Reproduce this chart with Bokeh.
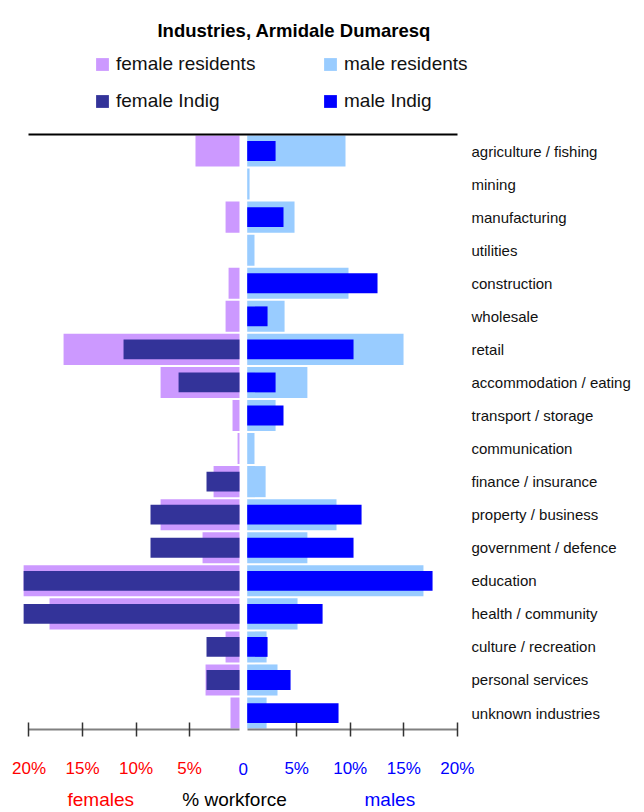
from bokeh.plotting import figure
from bokeh.models import (ColumnDataSource, Range1d, LinearAxis, FixedTicker,
                          Label, Legend, LegendItem)
from bokeh.core.properties import value
from bokeh.embed import file_html
from bokeh.resources import INLINE

# ---------------- data ----------------
categories = ["agriculture / fishing", "mining", "manufacturing", "utilities", "construction",
              "wholesale", "retail", "accommodation / eating", "transport / storage",
              "communication", "finance / insurance", "property / business",
              "government / defence", "education", "health / community",
              "culture / recreation", "personal services", "unknown industries"]
female_residents = [4.45, 0, 1.64, 0, 1.36, 1.64, 16.77, 7.71, 0.99, 0.52, 2.76, 7.71,
                    3.79, 20.5, 18.08, 1.64, 3.51, 1.18]
male_residents = [9.56, 0.6, 4.8, 1.06, 9.84, 3.87, 14.98, 6.0, 3.03, 1.06, 2.1, 8.72,
                  6.0, 16.84, 5.08, 2.19, 3.21, 2.19]
female_indig = [0, 0, 0, 0, 0, 0, 11.17, 6.03, 0, 0, 3.42, 8.65, 8.65, 20.5, 20.5,
                3.42, 3.42, 0]
male_indig = [3.03, 0, 3.77, 0, 12.55, 2.28, 10.31, 3.03, 3.77, 0, 0, 11.06, 10.31,
              17.69, 7.42, 2.28, 4.43, 8.91]
female_ticks = [-20, -15, -10, -5]
female_tick_labels = ["20%", "15%", "10%", "5%"]
male_ticks = [0, 5, 10, 15, 20]
male_tick_labels = ["0", "5%", "10%", "15%", "20%"]

# ---------------- styles / layout ----------------
FONT = "Liberation Sans"
GAP_F, GAP_M = 0.34, 0.38
C_FR, C_MR, C_FI, C_MI = "#cc99ff", "#99ccff", "#333399", "#0000ff"
W, H = 640, 812

n = len(categories)
rows = [n - 1 - i for i in range(n)]  # first category at the top


def female_src(vals):
    return ColumnDataSource(dict(y=rows, left=[-v for v in vals],
                                 right=[-min(v, GAP_F) for v in vals]))


def male_src(vals):
    return ColumnDataSource(dict(y=rows, left=[min(v, GAP_M) for v in vals],
                                 right=list(vals)))


p = figure(width=W, height=H,
           x_range=Range1d(-22.66, 37.11), y_range=Range1d(-3.008, 21.553),
           x_axis_location=None, y_axis_location=None,
           output_backend="svg", toolbar_location=None, title=None,
           min_border_left=0, min_border_right=0, min_border_top=0, min_border_bottom=0)
p.extra_y_ranges = {"px": Range1d(H, 0)}
p.outline_line_color = None
p.xgrid.visible = False
p.ygrid.visible = False
p.background_fill_color = "white"
p.border_fill_color = "white"

r_fr = p.hbar(y="y", left="left", right="right", height=0.94, source=female_src(female_residents),
              fill_color=C_FR, line_color=None)
r_mr = p.hbar(y="y", left="left", right="right", height=0.94, source=male_src(male_residents),
              fill_color=C_MR, line_color=None)
r_fi = p.hbar(y="y", left="left", right="right", height=0.6, source=female_src(female_indig),
              fill_color=C_FI, line_color=None)
r_mi = p.hbar(y="y", left="left", right="right", height=0.6, source=male_src(male_indig),
              fill_color=C_MI, line_color=None)

# category labels
p.text(x=21.33, y="y", text="text", source=ColumnDataSource(dict(y=rows, text=categories)),
       text_align="left", text_baseline="middle", text_font=value(FONT),
       text_font_size="15px", text_color="#111111")


# bottom axes (female / male halves), fixed at the bottom of the bars
def bottom_axis(ticks, bounds):
    return LinearAxis(ticker=FixedTicker(ticks=ticks), bounds=bounds, fixed_location=-0.5,
                      axis_line_color="#808080", axis_line_width=2,
                      major_tick_line_color="#333333", major_tick_line_width=1.5,
                      major_tick_in=7, major_tick_out=7, minor_tick_line_color=None,
                      major_label_overrides={t: "" for t in ticks},
                      major_label_text_font_size="1px")


p.add_layout(bottom_axis(female_ticks, (-20, -GAP_F)), "below")
p.add_layout(bottom_axis(male_ticks[1:], (GAP_M, 20)), "below")

# top rule
xt = LinearAxis(ticker=FixedTicker(ticks=[]), bounds=(-20, 20), fixed_location=n - 0.5,
                axis_line_color="black", axis_line_width=2,
                major_tick_line_color=None, minor_tick_line_color=None,
                major_tick_in=0, major_tick_out=0)
p.add_layout(xt, "above")

# tick labels
for t, s in zip(female_ticks, female_tick_labels):
    p.add_layout(Label(x=t, y=768, y_range_name="px", text=s, text_align="center",
                       text_baseline="alphabetic", text_font=FONT, text_font_size="17px",
                       text_color="#ff0000"))
for t, s in zip(male_ticks, male_tick_labels):
    p.add_layout(Label(x=t, y=768, y_range_name="px", text=s, text_align="center",
                       text_baseline="alphabetic", text_font=FONT, text_font_size="17px",
                       text_color="#0000ff"))

# axis titles
for xx, s, c in [(-13.3, "females", "#ff0000"), (-0.8, "% workforce", "#000000"),
                 (13.7, "males", "#0000ff")]:
    p.add_layout(Label(x=xx, y=799, y_range_name="px", text=s, text_align="center",
                       text_baseline="alphabetic", text_font=FONT, text_font_size="19px",
                       text_color=c))

# title
p.add_layout(Label(x=4.77, y=29.5, y_range_name="px", text="Industries, Armidale Dumaresq",
                   text_align="center", text_baseline="alphabetic", text_font=FONT,
                   text_font_size="18.5px", text_font_style="bold", text_color="#000000"))


# legends (location = bottom-left corner, pixels from the bottom-left of the frame)
def make_legend(items, loc):
    return Legend(items=items, location=loc, orientation="vertical",
                  border_line_color=None, background_fill_alpha=0,
                  padding=0, margin=0, spacing=15, glyph_width=16, glyph_height=16,
                  label_standoff=6, label_text_font=FONT, label_text_font_size="19px",
                  label_text_color="#111111")


leg_f = make_legend([LegendItem(label="female residents", renderers=[r_fr]),
                     LegendItem(label="female Indig", renderers=[r_fi])], (94, H - 112))
leg_m = make_legend([LegendItem(label="male residents", renderers=[r_mr]),
                     LegendItem(label="male Indig", renderers=[r_mi])], (322, H - 112))
p.add_layout(leg_f)
p.add_layout(leg_m)

open("out.html", "w").write(file_html(p, INLINE))
